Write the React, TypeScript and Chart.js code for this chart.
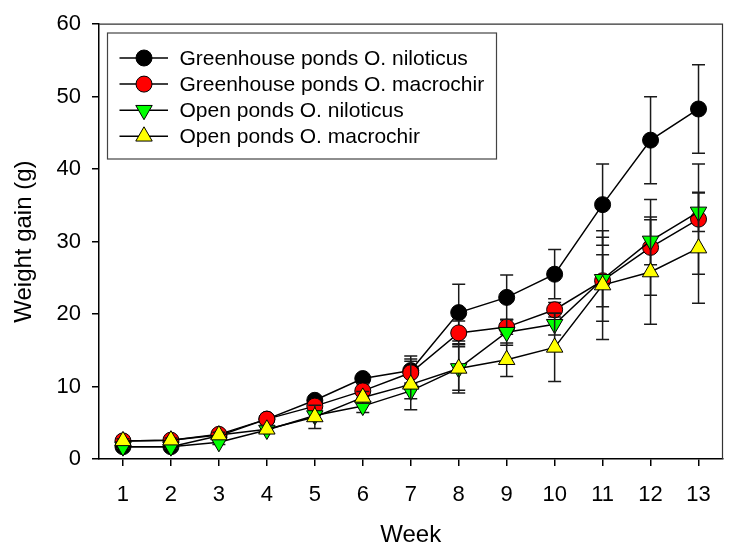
import React, { useEffect, useRef } from "react";
import { Chart, registerables } from "chart.js";

Chart.register(...registerables);

const WEEKS = [1, 2, 3, 4, 5, 6, 7, 8, 9, 10, 11, 12, 13];
const Y_TICKS = [0, 10, 20, 30, 40, 50, 60];

const LABELS = [
  "Greenhouse ponds O. niloticus",
  "Greenhouse ponds O. macrochir",
  "Open ponds O. niloticus",
  "Open ponds O. macrochir",
];

const GH_NIL = [1.7, 1.7, 3.2, 5.5, 8.1, 11.1, 12.2, 20.2, 22.3, 25.5, 35.1, 44.0, 48.3];
const GH_NIL_SD = [0.3, 0.3, 0.4, 0.5, 0.6, 0.5, 2.0, 3.9, 3.1, 3.4, 5.6, 6.0, 6.1];
const GH_MAC = [2.5, 2.6, 3.4, 5.5, 7.3, 9.4, 11.9, 17.4, 18.2, 20.6, 24.6, 29.2, 33.1];
const GH_MAC_SD = [0.3, 0.3, 0.4, 0.5, 0.7, 1.0, 1.6, 1.65, 1.0, 1.0, 3.6, 6.6, 7.6];
const OP_NIL = [1.7, 1.7, 2.3, 4.0, 6.0, 7.3, 9.4, 12.5, 17.5, 18.6, 24.8, 30.1, 34.1];
const OP_NIL_SD = [0.2, 0.2, 0.3, 0.4, 0.6, 0.9, 1.1, 3.0, 1.8, 1.5, 5.8, 3.3, 2.7];
const OP_MAC = [2.5, 2.6, 3.3, 4.1, 5.8, 8.5, 10.3, 12.5, 13.7, 15.4, 24.0, 25.8, 29.1];
const OP_MAC_SD = [0.3, 0.3, 0.4, 0.5, 1.6, 0.8, 3.5, 3.4, 2.3, 4.7, 7.5, 7.2, 7.6];

const FONT = "'Liberation Sans', Arial, Helvetica, sans-serif";

type Marker = { style: string; fill: string; rot: number; radius: number };
const MARKERS: Marker[] = [
  { style: "circle", fill: "#000000", rot: 0, radius: 8 },
  { style: "circle", fill: "#ff0000", rot: 0, radius: 8 },
  { style: "triangle", fill: "#00ff00", rot: 180, radius: 9.5 },
  { style: "triangle", fill: "#ffff00", rot: 0, radius: 9.5 },
];

function drawMarker(ctx: CanvasRenderingContext2D, m: Marker, x: number, y: number) {
  ctx.save();
  ctx.beginPath();
  if (m.style === "circle") {
    ctx.arc(x, y, m.radius, 0, Math.PI * 2);
  } else {
    let rad = (m.rot * Math.PI) / 180;
    const r = m.radius;
    ctx.moveTo(x + Math.sin(rad) * r, y - Math.cos(rad) * r);
    rad += (2 * Math.PI) / 3;
    ctx.lineTo(x + Math.sin(rad) * r, y - Math.cos(rad) * r);
    rad += (2 * Math.PI) / 3;
    ctx.lineTo(x + Math.sin(rad) * r, y - Math.cos(rad) * r);
    ctx.closePath();
  }
  ctx.fillStyle = m.fill;
  ctx.fill();
  ctx.lineWidth = 1;
  ctx.strokeStyle = "#000";
  ctx.stroke();
  ctx.restore();
}

const errorBarPlugin = {
  id: "errorBars",
  beforeDatasetDraw(chart: any, args: any) {
    const ds = chart.data.datasets[args.index];
    const errs: number[] = ds.errors || [];
    const xs = chart.scales.x;
    const ys = chart.scales.y;
    const ctx: CanvasRenderingContext2D = chart.ctx;
    ctx.save();
    ctx.strokeStyle = "#1a1a1a";
    ctx.lineWidth = 1.5;
    ds.data.forEach((p: any, i: number) => {
      const sd = errs[i] || 0;
      const px = xs.getPixelForValue(p.x);
      const top = ys.getPixelForValue(p.y + sd);
      const bot = ys.getPixelForValue(p.y - sd);
      ctx.beginPath();
      ctx.moveTo(px, top);
      ctx.lineTo(px, bot);
      ctx.moveTo(px - 6.5, top);
      ctx.lineTo(px + 6.5, top);
      ctx.moveTo(px - 6.5, bot);
      ctx.lineTo(px + 6.5, bot);
      ctx.stroke();
    });
    ctx.restore();
  },
};

const framePlugin = {
  id: "frame",
  beforeDatasetsDraw(chart: any) {
    const { ctx, chartArea } = chart;
    ctx.save();
    ctx.strokeStyle = "#333";
    ctx.lineWidth = 1.2;
    ctx.beginPath();
    ctx.moveTo(chartArea.left, chartArea.top);
    ctx.lineTo(chartArea.right, chartArea.top);
    ctx.lineTo(chartArea.right, chartArea.bottom);
    ctx.stroke();
    ctx.restore();
  },
};

const legendPlugin = {
  id: "customLegend",
  afterDraw(chart: any) {
    const ctx: CanvasRenderingContext2D = chart.ctx;
    const x0 = 107.5;
    const y0 = 33;
    const w = 389;
    const h = 126;
    ctx.save();
    ctx.fillStyle = "#fff";
    ctx.fillRect(x0, y0, w, h);
    ctx.strokeStyle = "#444";
    ctx.lineWidth = 1.2;
    ctx.strokeRect(x0, y0, w, h);
    ctx.font = `21px ${FONT}`;
    ctx.textBaseline = "middle";
    ctx.textAlign = "left";
    LABELS.forEach((label, i) => {
      const cy = y0 + 25 + i * 26.1;
      ctx.strokeStyle = "#000";
      ctx.lineWidth = 1.5;
      ctx.beginPath();
      ctx.moveTo(119.5, cy);
      ctx.lineTo(168, cy);
      ctx.stroke();
      drawMarker(ctx, MARKERS[i], 144, cy);
      ctx.fillStyle = "#000";
      ctx.fillText(label, 179.5, cy + 1);
    });
    ctx.restore();
  },
};

const SERIES = [GH_NIL, GH_MAC, OP_NIL, OP_MAC];
const SERIES_SD = [GH_NIL_SD, GH_MAC_SD, OP_NIL_SD, OP_MAC_SD];

export default function App() {
  const ref = useRef<HTMLCanvasElement | null>(null);

  useEffect(() => {
    if (!ref.current) return;
    const datasets = SERIES.map((vals, i) => ({
      label: LABELS[i],
      data: vals.map((v, j) => ({ x: WEEKS[j], y: v })),
      errors: SERIES_SD[i],
      borderColor: "#000",
      borderWidth: 1.5,
      backgroundColor: MARKERS[i].fill,
      pointBackgroundColor: MARKERS[i].fill,
      pointBorderColor: "#000",
      pointBorderWidth: 1,
      pointStyle: MARKERS[i].style,
      pointRotation: MARKERS[i].rot,
      pointRadius: MARKERS[i].radius,
      pointHoverRadius: MARKERS[i].radius,
      tension: 0,
      fill: false,
      order: 4 - i,
    }));

    const chart = new Chart(ref.current, {
      type: "line",
      data: { datasets } as any,
      options: {
        animation: false,
        responsive: false,
        maintainAspectRatio: false,
        devicePixelRatio: 1,
        layout: { padding: { top: 19, right: 6, left: 0, bottom: 0 } },
        plugins: {
          legend: { display: false },
          tooltip: { enabled: false },
        },
        scales: {
          x: {
            type: "linear",
            min: 0.5,
            max: 13.5,
            afterBuildTicks: (s: any) => {
              s.ticks = WEEKS.map((v) => ({ value: v }));
            },
            afterFit: (s: any) => {
              s.height = 88;
            },
            ticks: {
              color: "#000",
              font: { family: FONT, size: 22 },
              padding: 16,
              maxRotation: 0,
              autoSkip: false,
            },
            grid: {
              display: true,
              drawOnChartArea: false,
              drawTicks: true,
              tickLength: 7,
              color: "#000",
              lineWidth: 1.5,
            },
            border: { display: true, color: "#000", width: 1.5 },
            title: {
              display: true,
              text: "Week",
              color: "#000",
              font: { family: FONT, size: 24, lineHeight: 1 },
              padding: { top: 0, bottom: 0 },
            },
          },
          y: {
            type: "linear",
            min: 0,
            max: 60,
            afterBuildTicks: (s: any) => {
              s.ticks = Y_TICKS.map((v) => ({ value: v }));
            },
            afterFit: (s: any) => {
              s.width = 99;
            },
            ticks: {
              color: "#000",
              font: { family: FONT, size: 22 },
              padding: 11,
            },
            grid: {
              display: true,
              drawOnChartArea: false,
              drawTicks: true,
              tickLength: 7,
              color: "#000",
              lineWidth: 1.5,
            },
            border: { display: true, color: "#000", width: 1.5 },
            title: {
              display: true,
              text: "Weight gain (g)",
              color: "#000",
              font: { family: FONT, size: 24, lineHeight: 1 },
              padding: { top: 12, bottom: 0 },
            },
          },
        },
      } as any,
      plugins: [framePlugin, errorBarPlugin, legendPlugin],
    });
    return () => chart.destroy();
  }, []);

  return (
    <div style={{ position: "absolute", left: 0, top: 0, width: 733, height: 547, background: "#fff" }}>
      <canvas ref={ref} width={733} height={547} style={{ width: 733, height: 547, display: "block" }} />
    </div>
  );
}
